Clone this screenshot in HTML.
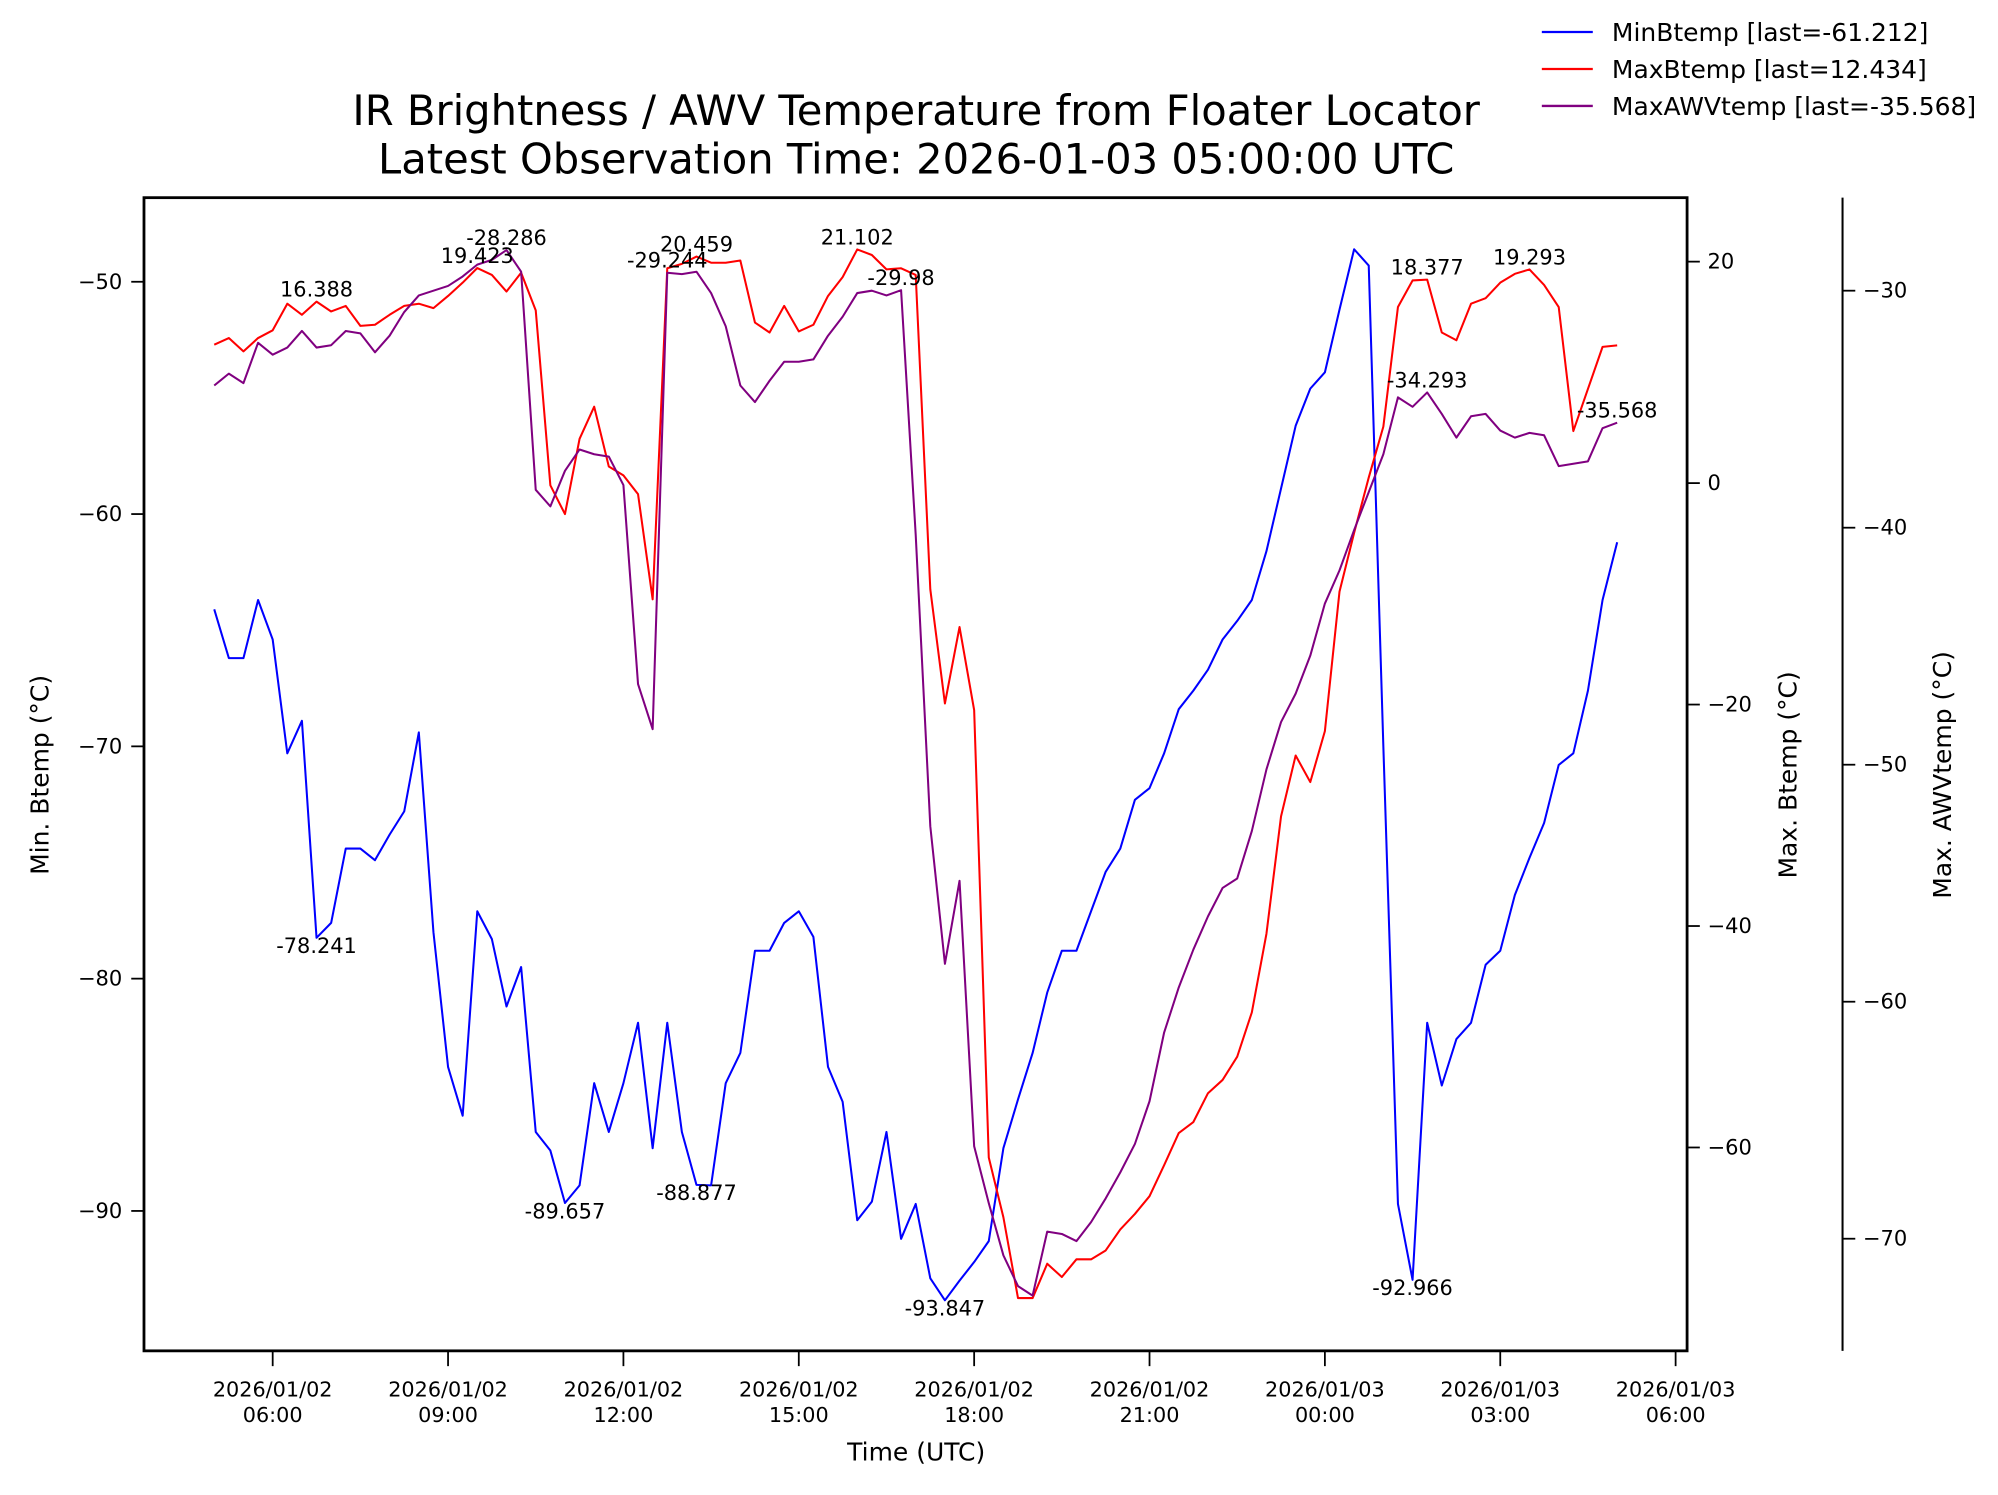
<!DOCTYPE html>
<html><head><meta charset="utf-8"><style>
html,body{margin:0;padding:0;background:#fff;}
svg{display:block;font-family:"DejaVu Sans","Liberation Sans",sans-serif;}
</style></head><body>
<svg id="chart" width="1998" height="1495" viewBox="0 0 1568 1173" xmlns="http://www.w3.org/2000/svg">
<text x="719" y="98" font-size="32.7" text-anchor="middle">IR Brightness / AWV Temperature from Floater Locator</text>
<text x="719" y="136" font-size="32.7" text-anchor="middle">Latest Observation Time: 2026-01-03 05:00:00 UTC</text>
<g id="legend"></g>
<g id="axes"></g>
<g id="marks"></g>
</svg>
<script>
const startHour = 5; // 2026/01/02 05:00 UTC, 15-minute steps
const minBtemp = [-64.1,-66.2,-66.2,-63.7,-65.4,-70.3,-68.9,-78.241,-77.6,-74.4,
-74.4,-74.9,-73.8,-72.8,-69.4,-78,-83.8,-85.9,-77.1,-78.3,
-81.2,-79.5,-86.6,-87.4,-89.657,-88.9,-84.5,-86.6,-84.5,-81.9,
-87.3,-81.9,-86.6,-88.877,-88.9,-84.5,-83.2,-78.8,-78.8,-77.6,
-77.1,-78.2,-83.8,-85.3,-90.4,-89.6,-86.6,-91.2,-89.7,-92.9,
-93.847,-93,-92.2,-91.3,-87.3,-85.2,-83.2,-80.6,-78.8,-78.8,
-77.1,-75.4,-74.4,-72.3,-71.8,-70.3,-68.4,-67.6,-66.7,-65.4,
-64.6,-63.7,-61.6,-58.9,-56.2,-54.6,-53.9,-51.2,-48.6,-49.3,
-70,-89.7,-92.966,-81.9,-84.6,-82.6,-81.9,-79.4,-78.8,-76.4,
-74.8,-73.3,-70.8,-70.3,-67.6,-63.7,-61.212];
const maxBtemp = [12.5,13.1,11.9,13.1,13.8,16.2,15.2,16.388,15.5,16.0,
14.2,14.3,15.2,16.0,16.2,15.8,16.9,18.1,19.423,18.8,
17.3,19,15.6,-0.2,-2.8,4,6.9,1.5,0.7,-1,
-10.5,19.4,19.8,20.459,19.9,19.9,20.1,14.5,13.6,16,
13.7,14.3,16.9,18.6,21.102,20.6,19.3,19.4,18.8,-9.6,
-19.9,-13,-20.5,-60.9,-66.3,-73.6,-73.6,-70.5,-71.7,-70.1,
-70.1,-69.3,-67.4,-66,-64.4,-61.6,-58.7,-57.7,-55.1,-53.9,
-51.8,-47.8,-40.7,-30.1,-24.6,-27,-22.4,-9.8,-4.5,0.5,
5.1,15.9,18.3,18.377,13.6,12.9,16.2,16.7,18.1,18.9,
19.293,17.9,15.9,4.7,8.5,12.3,12.434];
const maxAWV = [-34.0,-33.5,-33.9,-32.2,-32.7,-32.4,-31.7,-32.4,-32.3,-31.7,
-31.8,-32.6,-31.9,-30.9,-30.2,-30,-29.8,-29.4,-28.9,-28.7,
-28.286,-29.2,-38.4,-39.1,-37.6,-36.7,-36.9,-37,-38.2,-46.6,
-48.5,-29.244,-29.3,-29.2,-30.1,-31.5,-34,-34.7,-33.8,-33,
-33,-32.9,-31.9,-31.1,-30.1,-30,-30.2,-29.98,-40.3,-52.6,
-58.4,-54.9,-66.1,-68.5,-70.7,-72,-72.4,-69.7,-69.8,-70.1,
-69.3,-68.3,-67.2,-66,-64.2,-61.3,-59.4,-57.8,-56.4,-55.2,
-54.8,-52.8,-50.2,-48.2,-47,-45.4,-43.2,-41.8,-40.1,-38.5,
-36.9,-34.5,-34.9,-34.293,-35.2,-36.2,-35.3,-35.2,-35.9,-36.2,
-36,-36.1,-37.4,-37.3,-37.2,-35.8,-35.568];
const xTickHours = [6,9,12,15,18,21,24,27,30];
const xTickLabels = ["2026/01/02\n06:00","2026/01/02\n09:00","2026/01/02\n12:00","2026/01/02\n15:00","2026/01/02\n18:00","2026/01/02\n21:00","2026/01/03\n00:00","2026/01/03\n03:00","2026/01/03\n06:00"];
const leftTicks = [-50,-60,-70,-80,-90];
const rightTicks = [20,0,-20,-40,-60];
const awvTicks = [-30,-40,-50,-60,-70];
const minAnnot = [7,24,33,50,82];
const maxAnnot = [7,18,33,44,83,90];
const awvAnnot = [20,31,47,83,96];

const NS="http://www.w3.org/2000/svg";
const L=113,R=1324,T=155,B=1060,AX3=1446;
const xOf = h => 214 + (h-6)*45.875;
const yMin = v => 221 + (-50-v)*18.23;
const yMax = v => 379 - v*8.69;
const yAwv = v => 228 + (-30-v)*18.6;
function mk(tag, attrs, parent){const e=document.createElementNS(NS,tag);for(const k in attrs)e.setAttribute(k,attrs[k]);parent.appendChild(e);return e;}
const axes=document.getElementById('axes'), marks=document.getElementById('marks'), legend=document.getElementById('legend');
const fmt = v => String(Number(v.toFixed(3)));

let fr=mk('rect',{x:L,y:T,width:R-L,height:B-T,fill:'none',stroke:'#000','stroke-width':2.2},axes);


let sp=mk('line',{x1:AX3,y1:T,x2:AX3,y2:B,stroke:'#000','stroke-width':1.6},axes);



xTickHours.forEach((h,i)=>{
  const x=xOf(h);
  const t=mk('line',{x1:x,y1:B,x2:x,y2:B+12,stroke:'#000','stroke-width':1.4},axes);
  
  
  const parts=xTickLabels[i].split('\n');
  const tx=mk('text',{x:x,y:B+36,'font-size':16.3,'text-anchor':'middle'},axes);
  
  
  parts.forEach((p,j)=>{const ts=mk('tspan',{x:x,dy:j?20:0},tx);ts.textContent=p;});
});
leftTicks.forEach(v=>{
  const y=yMin(v);
  mk('line',{x1:L-10,y1:y,x2:L,y2:y,stroke:'#000','stroke-width':1.4},axes);
  const t=mk('text',{x:L-17,y:y+5.5,'font-size':16.5,'text-anchor':'end'},axes);
  
  
  t.textContent=String(v).replace('-','\u2212');
});
rightTicks.forEach(v=>{
  const y=yMax(v);
  mk('line',{x1:R,y1:y,x2:R+10,y2:y,stroke:'#000','stroke-width':1.4},axes);
  const t=mk('text',{x:R+16,y:y+5.5,'font-size':16.5,'text-anchor':'start'},axes);
  
  
  t.textContent=String(v).replace('-','\u2212');
});
awvTicks.forEach(v=>{
  const y=yAwv(v);
  mk('line',{x1:AX3,y1:y,x2:AX3+10,y2:y,stroke:'#000','stroke-width':1.4},axes);
  const t=mk('text',{x:AX3+16,y:y+5.5,'font-size':16.5,'text-anchor':'start'},axes);
  
  
  t.textContent=String(v).replace('-','\u2212');
});
function axTitle(txt,x,y,rot,name){
  const t=mk('text',{x:x,y:y,'font-size':19.6,'text-anchor':'middle',transform:rot?`rotate(-90 ${x} ${y})`:''},axes);
  
  
  t.textContent=txt;
}
axTitle('Time (UTC)',719,1146,false,'x-axis-title');
axTitle('Min. Btemp (°C)',38,608,true,'left-axis-title');
axTitle('Max. Btemp (°C)',1410,608,true,'right-axis-title');
axTitle('Max. AWVtemp (°C)',1531,608,true,'awv-axis-title');

function series(arr,yf,color,name){
  const pts=arr.map((v,i)=>xOf(startHour+i*0.25).toFixed(2)+','+yf(v).toFixed(2)).join(' ');
  const p=mk('polyline',{points:pts,fill:'none',stroke:color,'stroke-width':1.6,'stroke-linejoin':'round'},marks);
  
  
}
series(minBtemp,yMin,'#0000ff','min-btemp-line');
series(maxBtemp,yMax,'#ff0000','max-btemp-line');
series(maxAWV,yAwv,'#800080','max-awv-line');

function annot(arr,idx,yf,dy,name){
  idx.forEach(i=>{
    const t=mk('text',{x:xOf(startHour+i*0.25),y:yf(arr[i])+dy,'font-size':16.4,'text-anchor':'middle'},marks);
    
    
    t.textContent=fmt(arr[i]);
  });
}
annot(minBtemp,minAnnot,yMin,12,'min-annotation');
annot(maxBtemp,maxAnnot,yMax,-4,'max-annotation');
annot(maxAWV,awvAnnot,yAwv,-4,'awv-annotation');

[['MinBtemp [last='+fmt(minBtemp[minBtemp.length-1])+']','#0000ff'],
 ['MaxBtemp [last='+fmt(maxBtemp[maxBtemp.length-1])+']','#ff0000'],
 ['MaxAWVtemp [last='+fmt(maxAWV[maxAWV.length-1])+']','#800080']].forEach((e,i)=>{
  const y=25+i*29;
  const g=mk('g',{},legend);
  
  
  mk('line',{x1:1210,y1:y,x2:1250,y2:y,stroke:e[1],'stroke-width':1.8},g);
  const t=mk('text',{x:1265,y:y+7,'font-size':19.6},g);
  t.textContent=e[0];
});
</script>
</body></html>
